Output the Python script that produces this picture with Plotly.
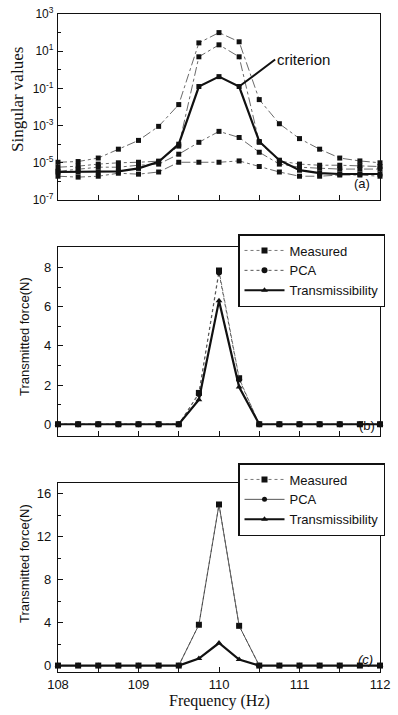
import plotly.graph_objects as go

freq = [108.0, 108.25, 108.5, 108.75, 109.0, 109.25, 109.5, 109.75, 110.0,
        110.25, 110.5, 110.75, 111.0, 111.25, 111.5, 111.75, 112.0]

# (a) singular values
sv1 = [1.07e-5, 1.17e-5, 1.8e-5, 5.4e-5, 1.6e-4, 9.1e-4, 1.35e-2, 28, 100,
       32, 2.5e-2, 1.26e-3, 2.0e-4, 5.4e-5, 1.8e-5, 1.26e-5, 1.0e-5]
sv2 = [5.8e-6, 6.6e-6, 8.5e-6, 1.0e-5, 1.07e-5, 1.23e-5, 7.9e-5, 5.0, 22,
       5.0, 1.26e-4, 1.26e-5, 8.5e-6, 7.4e-6, 7.4e-6, 7.1e-6, 6.3e-6]
sv_crit = [3.2e-6, 3.2e-6, 3.2e-6, 3.5e-6, 5.0e-6, 1.12e-5, 1.0e-4, 0.126, 0.43,
           0.126, 1.4e-4, 1.38e-5, 4.0e-6, 2.8e-6, 2.5e-6, 2.5e-6, 2.5e-6]
sv4 = [3.5e-6, 4.6e-6, 5.8e-6, 5.8e-6, 7.4e-6, 8.5e-6, 2.9e-5, 1.26e-4, 4.9e-4,
       2.3e-4, 3.7e-5, 8.5e-6, 5.8e-6, 5.1e-6, 4.6e-6, 4.6e-6, 4.6e-6]
sv5 = [1.9e-6, 1.7e-6, 1.9e-6, 2.75e-6, 2.45e-6, 3.2e-6, 1.07e-5, 1.07e-5, 1.07e-5,
       1.26e-5, 6.3e-6, 3.2e-6, 1.9e-6, 1.9e-6, 2.2e-6, 2.2e-6, 1.9e-6]

# (b) transmitted force
b_measured = [0, 0, 0, 0, 0, 0, 0, 1.6, 7.85, 2.35, 0, 0, 0, 0, 0, 0, 0]
b_pca = [0, 0, 0, 0, 0, 0, 0, 1.55, 7.75, 2.3, 0, 0, 0, 0, 0, 0, 0]
b_trans = [0, 0, 0, 0, 0, 0, 0, 1.25, 6.3, 1.9, 0, 0, 0, 0, 0, 0, 0]

# (c) transmitted force
c_measured = [0, 0, 0, 0, 0, 0, 0, 3.8, 15.0, 3.7, 0, 0, 0, 0, 0, 0, 0]
c_pca = [0, 0, 0, 0, 0, 0, 0, 3.8, 15.0, 3.7, 0, 0, 0, 0, 0, 0, 0]
c_trans = [0, 0, 0, 0, 0, 0, 0, 0.65, 2.1, 0.56, 0, 0, 0, 0, 0, 0, 0]

a_ticks = [1e-7, 1e-5, 1e-3, 1e-1, 1e1, 1e3]
a_ticktext = ["10<sup>-7</sup>", "10<sup>-5</sup>", "10<sup>-3</sup>",
              "10<sup>-1</sup>", "10<sup>1</sup>", "10<sup>3</sup>"]
x_ticks = [108, 108.5, 109, 109.5, 110, 110.5, 111, 111.5, 112]
x_ticktext = ["108", "", "109", "", "110", "", "111", "", "112"]

SANS = "Liberation Sans, Arial, sans-serif"
SERIF = "Liberation Serif, Times New Roman, serif"
INK = "#111"

fig = go.Figure()

# ---- panel (a)
for s in [sv1, sv2, sv4, sv5]:
    fig.add_trace(go.Scatter(x=freq, y=s, xaxis="x", yaxis="y", mode="lines+markers",
                             line=dict(color="#444", width=0.8, dash="dashdot"),
                             marker=dict(symbol="square", size=5, color=INK),
                             showlegend=False, cliponaxis=False))
fig.add_trace(go.Scatter(x=freq, y=sv_crit, xaxis="x", yaxis="y", mode="lines+markers",
                         line=dict(color=INK, width=2.2),
                         marker=dict(symbol="square", size=5, color=INK),
                         showlegend=False, cliponaxis=False))

# ---- panel (b)
fig.add_trace(go.Scatter(x=freq, y=b_measured, xaxis="x2", yaxis="y2", mode="lines+markers",
                         name="Measured", legend="legend2",
                         line=dict(color="#777", width=1, dash="dot"),
                         marker=dict(symbol="square", size=6, color=INK), cliponaxis=False))
fig.add_trace(go.Scatter(x=freq, y=b_pca, xaxis="x2", yaxis="y2", mode="lines+markers",
                         name="PCA", legend="legend2",
                         line=dict(color="#555", width=1, dash="dot"),
                         marker=dict(symbol="circle", size=6, color=INK), cliponaxis=False))
fig.add_trace(go.Scatter(x=freq, y=b_trans, xaxis="x2", yaxis="y2", mode="lines+markers",
                         name="Transmissibility", legend="legend2",
                         line=dict(color=INK, width=2.2),
                         marker=dict(symbol="triangle-up", size=6, color=INK), cliponaxis=False))

# ---- panel (c)
fig.add_trace(go.Scatter(x=freq, y=c_measured, xaxis="x3", yaxis="y3", mode="lines+markers",
                         name="Measured", legend="legend3",
                         line=dict(color="#777", width=1, dash="dot"),
                         marker=dict(symbol="square", size=6, color=INK), cliponaxis=False))
fig.add_trace(go.Scatter(x=freq, y=c_pca, xaxis="x3", yaxis="y3", mode="lines+markers",
                         name="PCA", legend="legend3",
                         line=dict(color="#444", width=0.9),
                         marker=dict(symbol="circle", size=5, color=INK), cliponaxis=False))
fig.add_trace(go.Scatter(x=freq, y=c_trans, xaxis="x3", yaxis="y3", mode="lines+markers",
                         name="Transmissibility", legend="legend3",
                         line=dict(color=INK, width=2.2),
                         marker=dict(symbol="triangle-up", size=6, color=INK), cliponaxis=False))

W, H = 398, 715
xdom = [58 / W, 380 / W]


def ydom(top, bottom):
    return [1 - bottom / H, 1 - top / H]


common_x = dict(range=[108, 112], showgrid=False, zeroline=False, showline=True,
                linecolor=INK, linewidth=1.3, mirror=True, ticks="inside", ticklen=5,
                tickcolor=INK, tickvals=x_ticks, ticktext=x_ticktext, domain=xdom,
                tickfont=dict(family=SANS, size=13, color=INK), automargin=False)
common_y = dict(showgrid=False, zeroline=False, showline=True, linecolor=INK, linewidth=1.3,
                mirror=True, ticks="inside", ticklen=5, tickcolor=INK, automargin=False,
                tickfont=dict(family=SANS, size=13, color=INK), ticklabelstandoff=3)

fig.update_layout(
    template="none",
    width=W, height=H, margin=dict(l=0, r=0, t=0, b=0, pad=0, autoexpand=False),
    paper_bgcolor="white", plot_bgcolor="white",
    xaxis=dict(common_x, anchor="y", showticklabels=False),
    yaxis=dict(common_y, type="log", range=[-7, 3], domain=ydom(14, 200), anchor="x",
               tickvals=a_ticks, ticktext=a_ticktext,
               tickfont=dict(family=SANS, size=12, color=INK), ticklabelstandoff=1,
               minor=dict(tickvals=[1e-6, 1e-4, 1e-2, 1e0, 1e2], ticks="inside",
                          ticklen=3, tickcolor=INK)),
    xaxis2=dict(common_x, anchor="y2", showticklabels=False),
    yaxis2=dict(common_y, range=[-0.6, 9.05], domain=ydom(247, 436), anchor="x2",
                tickvals=[0, 2, 4, 6, 8],
                minor=dict(dtick=1, ticks="inside", ticklen=3, tickcolor=INK)),
    xaxis3=dict(common_x, anchor="y3", showticklabels=True),
    yaxis3=dict(common_y, range=[-0.6, 17.0], domain=ydom(483, 672), anchor="x3",
                tickvals=[0, 4, 8, 12, 16],
                minor=dict(dtick=2, ticks="inside", ticklen=3, tickcolor=INK)),
    legend2=dict(x=238 / W, y=1 - 234 / H, xanchor="left", yanchor="top",
                 bgcolor="white", bordercolor=INK, borderwidth=1.5,
                 font=dict(family=SANS, size=13, color=INK), tracegroupgap=0,
                 itemwidth=40),
    legend3=dict(x=238 / W, y=1 - 463 / H, xanchor="left", yanchor="top",
                 bgcolor="white", bordercolor=INK, borderwidth=1.5,
                 font=dict(family=SANS, size=13, color=INK), tracegroupgap=0,
                 itemwidth=40),
)


def label(x, y, text, font, angle=0):
    return dict(x=x / W, y=1 - y / H, xref="paper", yref="paper", text=text,
                xanchor="center", yanchor="middle", textangle=angle,
                showarrow=False, font=font)


sans13 = dict(family=SANS, size=13, color=INK)
ann = [
    dict(x=110.25, y=-0.9, xref="x", yref="y", text="criterion", showarrow=True,
         arrowhead=0, arrowwidth=2, arrowcolor=INK, ax=36, ay=-27,
         xanchor="left", yanchor="middle",
         font=dict(family=SANS, size=15, color=INK)),
    label(362, 183, "(a)", sans13),
    label(367, 425, "(b)", sans13),
    label(365, 659, "<i>(c)</i>", sans13),
    label(17, 100, "Singular values", dict(family=SERIF, size=17, color=INK), -90),
    label(24, 337, "Transmitted force(N)", sans13, -90),
    label(24, 564, "Transmitted force(N)", sans13, -90),
    label(219, 701, "Frequency (Hz)", dict(family=SERIF, size=16, color=INK)),
]
fig.update_layout(annotations=ann)

fig.write_html("out.html", config={"displayModeBar": False},
               post_script="document.body.style.margin='0';"
                           "document.body.style.padding='0';"
                           "document.body.style.overflow='hidden';")
